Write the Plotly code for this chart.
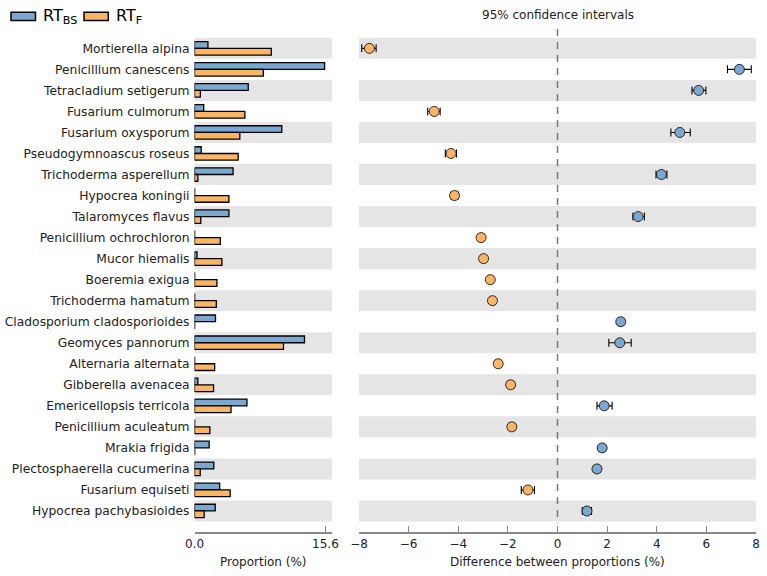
import plotly.graph_objects as go

species = [
    "Mortierella alpina", "Penicillium canescens", "Tetracladium setigerum",
    "Fusarium culmorum", "Fusarium oxysporum", "Pseudogymnoascus roseus",
    "Trichoderma asperellum", "Hypocrea koningii", "Talaromyces flavus",
    "Penicillium ochrochloron", "Mucor hiemalis", "Boeremia exigua",
    "Trichoderma hamatum", "Cladosporium cladosporioides", "Geomyces pannorum",
    "Alternaria alternata", "Gibberella avenacea", "Emericellopsis terricola",
    "Penicillium aculeatum", "Mrakia frigida", "Plectosphaerella cucumerina",
    "Fusarium equiseti", "Hypocrea pachybasioides",
]

prop_bs = [1.6, 15.5, 6.4, 1.1, 10.4, 0.8, 4.6, 0.02, 4.1, 0.02, 0.3, 0.02,
           0.02, 2.5, 13.1, 0.02, 0.4, 6.25, 0.02, 1.75, 2.3, 3.0, 2.47]
prop_f = [9.15, 8.2, 0.7, 6.0, 5.4, 5.2, 0.4, 4.1, 0.75, 3.07, 3.26, 2.67,
          2.6, 0.02, 10.6, 2.4, 2.27, 4.35, 1.83, 0.02, 0.68, 4.25, 1.15]

diff = [-7.58, 7.33, 5.69, -4.97, 4.93, -4.29, 4.19, -4.15, 3.25, -3.08, -2.98,
        -2.71, -2.62, 2.55, 2.51, -2.39, -1.89, 1.88, -1.84, 1.80, 1.59, -1.19, 1.19]
ci_low = [-7.89, 6.85, 5.42, -5.23, 4.57, -4.52, 3.97, -4.30, 3.04, -3.20, -3.10,
          -2.82, -2.73, 2.43, 2.07, -2.51, -2.02, 1.59, -1.97, 1.68, 1.45, -1.46, 1.00]
ci_high = [-7.31, 7.81, 5.98, -4.73, 5.35, -4.07, 4.41, -4.00, 3.50, -2.96, -2.86,
           -2.60, -2.51, 2.67, 2.97, -2.27, -1.76, 2.20, -1.71, 1.92, 1.73, -0.93, 1.37]

group_names = ["RT<sub>BS</sub>", "RT<sub>F</sub>"]
prop_ticks = [0.0, 15.6]
diff_ticks = [-8, -6, -4, -2, 0, 2, 4, 6, 8]

BLUE = "#7ca8cf"
ORANGE = "#fbb566"
BAND = "#e5e5e5"
AXC = "#888888"
FONT = "DejaVu Sans"

W, H = 767, 576
n = len(species)
rows = list(range(n))

fig = go.Figure()

fig.add_trace(go.Bar(
    y=[r - 0.16 for r in rows], x=prop_bs, orientation="h", width=0.32,
    marker=dict(color=BLUE, line=dict(color="black", width=1.3)),
    xaxis="x", yaxis="y", showlegend=False))
fig.add_trace(go.Bar(
    y=[r + 0.16 for r in rows], x=prop_f, orientation="h", width=0.32,
    marker=dict(color=ORANGE, line=dict(color="black", width=1.3)),
    xaxis="x", yaxis="y", showlegend=False))

colors = [BLUE if d > 0 else ORANGE for d in diff]
fig.add_trace(go.Scatter(
    x=diff, y=rows, mode="markers",
    marker=dict(size=10, color=colors, line=dict(color="black", width=0.8)),
    error_x=dict(type="data", symmetric=False,
                 array=[h - d for h, d in zip(ci_high, diff)],
                 arrayminus=[d - l for d, l in zip(diff, ci_low)],
                 color="black", thickness=1.1, width=4),
    xaxis="x2", yaxis="y2", showlegend=False))

shapes = []
xmax_left = 16.38
for i in rows:
    if i % 2 == 0:
        shapes.append(dict(type="rect", xref="x", yref="y", x0=0, x1=xmax_left,
                           y0=i - 0.5, y1=i + 0.5, fillcolor=BAND,
                           line=dict(width=0), layer="below"))
        shapes.append(dict(type="rect", xref="x2", yref="y2", x0=-8, x1=8,
                           y0=i - 0.5, y1=i + 0.5, fillcolor=BAND,
                           line=dict(width=0), layer="below"))
shapes.append(dict(type="line", xref="x2", yref="y2", x0=0, x1=0,
                   y0=-0.92, y1=22.6, line=dict(color="#777777", width=1.5, dash="7px,6px"),
                   layer="below"))

def px(x):
    return x / W

def py(y):
    return 1 - y / H

shapes.append(dict(type="rect", xref="paper", yref="paper", x0=px(11), x1=px(35.5),
                   y0=py(20.5), y1=py(12.3), fillcolor=BLUE, line=dict(color="black", width=1.5)))
shapes.append(dict(type="rect", xref="paper", yref="paper", x0=px(84), x1=px(108.3),
                   y0=py(20.5), y1=py(12.3), fillcolor=ORANGE, line=dict(color="black", width=1.5)))

annotations = [
    dict(text=group_names[0], x=px(41), y=py(17), xref="paper", yref="paper",
         xanchor="left", yanchor="middle", showarrow=False, font=dict(size=16, color="black", family=FONT)),
    dict(text=group_names[1], x=px(114), y=py(17), xref="paper", yref="paper",
         xanchor="left", yanchor="middle", showarrow=False, font=dict(size=16, color="black", family=FONT)),
    dict(text="95% confidence intervals", x=px(557.5), y=py(15.5), xref="paper", yref="paper",
         xanchor="center", yanchor="middle", showarrow=False, font=dict(size=12, color="#222", family=FONT)),
    dict(text="Proportion (%)", x=px(263), y=py(562), xref="paper", yref="paper",
         xanchor="center", yanchor="middle", showarrow=False, font=dict(size=12, color="#222", family=FONT)),
    dict(text="Difference between proportions (%)", x=px(557.5), y=py(562), xref="paper", yref="paper",
         xanchor="center", yanchor="middle", showarrow=False, font=dict(size=12, color="#222", family=FONT)),
]

ydom = [44 / H, 1 - 29 / H]
yrange = [23, -0.92]

fig.update_layout(
    width=W, height=H, margin=dict(l=0, r=0, t=0, b=0, autoexpand=False),
    paper_bgcolor="white", plot_bgcolor="white",
    font=dict(family=FONT, size=12, color="#222"),
    barmode="overlay",
    shapes=shapes, annotations=annotations,
    xaxis=dict(domain=[px(194.5), px(332)], range=[0, xmax_left], anchor="y", automargin=False,
               tickvals=prop_ticks, ticktext=["%.1f" % v for v in prop_ticks],
               ticks="inside", ticklen=6, tickcolor=AXC, tickwidth=1.2,
               showline=True, linecolor=AXC, linewidth=1.5, showgrid=False, zeroline=False,
               tickfont=dict(size=12, color="#222")),
    xaxis2=dict(domain=[px(359), px(756)], range=[-8, 8], anchor="y2", automargin=False,
                tickvals=diff_ticks, ticks="inside", ticklen=6, tickcolor=AXC, tickwidth=1.2,
                showline=True, linecolor=AXC, linewidth=1.5, showgrid=False, zeroline=False,
                tickfont=dict(size=12, color="#222")),
    yaxis=dict(domain=ydom, range=yrange, anchor="x", tickvals=rows, ticktext=species,
               automargin=False,
               showgrid=False, zeroline=False, showline=False, ticks="", ticklabelstandoff=4,
               tickfont=dict(size=12.3, color="#222")),
    yaxis2=dict(domain=ydom, range=yrange, anchor="x2", showticklabels=False, automargin=False,
                showgrid=False, zeroline=False, showline=False, ticks=""),
)

fig.write_html("out.html", config={"displayModeBar": False},
               post_script="document.body.style.margin='0';document.body.style.padding='0';")
